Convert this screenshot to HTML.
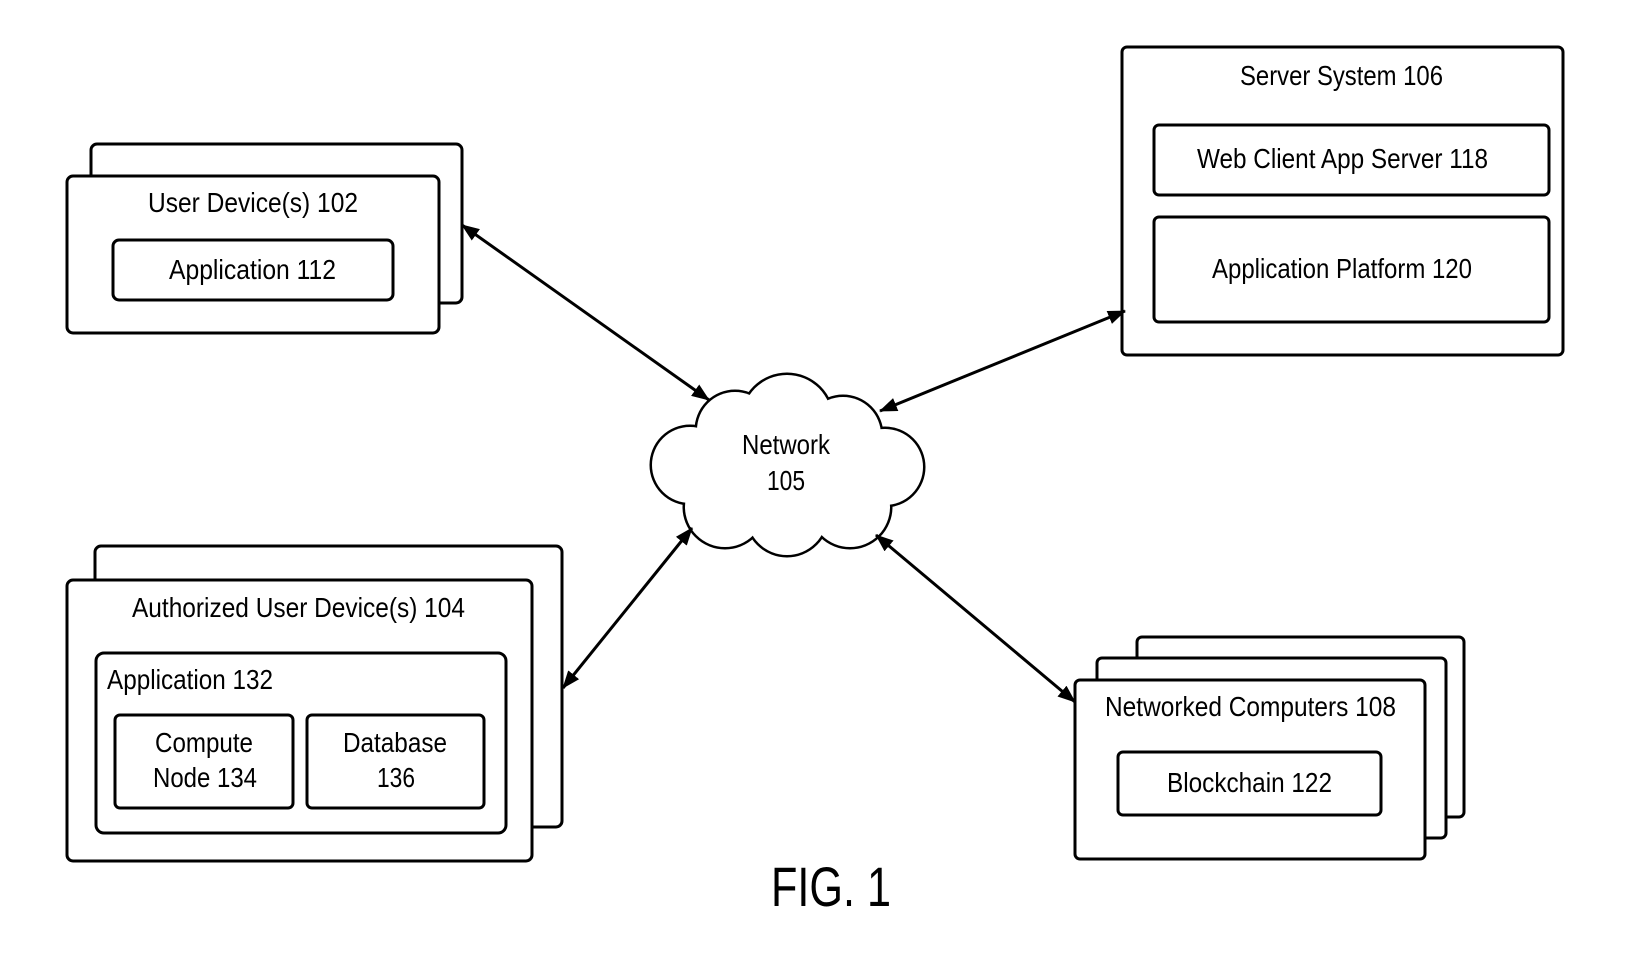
<!DOCTYPE html>
<html><head><style>html,body{margin:0;padding:0;background:#fff}svg{display:block}</style></head>
<body>
<svg width="1633" height="971" viewBox="0 0 1633 971" xmlns="http://www.w3.org/2000/svg" font-family="Liberation Sans, Arial, sans-serif" font-size="28" fill="#000">
<defs>
<marker id="a" markerWidth="10" markerHeight="10" refX="9" refY="5" orient="auto-start-reverse" markerUnits="userSpaceOnUse" viewBox="0 0 10 10">
<path d="M0,0 L10,5 L0,10 z" fill="#000"/>
</marker>
<marker id="ar" markerWidth="18" markerHeight="14" refX="17" refY="7" orient="auto-start-reverse" markerUnits="userSpaceOnUse" viewBox="0 0 18 14">
<path d="M0,0 L18,7 L0,14 z" fill="#000"/>
</marker>
</defs>
<g fill="#fff" stroke="#000" stroke-width="3">
<!-- User devices 102 -->
<rect x="91" y="144" width="371" height="159" rx="6"/>
<rect x="67" y="176" width="372" height="157" rx="6"/>
<rect x="113" y="240" width="280" height="60" rx="6"/>
<!-- Authorized 104 -->
<rect x="95" y="546" width="467" height="281" rx="6"/>
<rect x="67" y="580" width="465" height="281" rx="6"/>
<rect x="96" y="653" width="410" height="180" rx="8"/>
<rect x="115" y="715" width="178" height="93" rx="5"/>
<rect x="307" y="715" width="177" height="93" rx="5"/>
<!-- Server 106 -->
<rect x="1122" y="47" width="441" height="308" rx="5"/>
<rect x="1154" y="125" width="395" height="70" rx="5"/>
<rect x="1154" y="217" width="395" height="105" rx="5"/>
<!-- Networked 108 -->
<rect x="1137" y="637" width="327" height="180" rx="5"/>
<rect x="1097" y="658" width="349" height="180" rx="5"/>
<rect x="1075" y="680" width="350" height="179" rx="5"/>
<rect x="1118" y="752" width="263" height="63" rx="5"/>
</g>
<!-- cloud -->
<g stroke="#000" stroke-width="5" fill="#000">
<circle cx="787" cy="420" r="45"/><circle cx="735" cy="430" r="38"/><circle cx="843" cy="435" r="38"/>
<circle cx="690" cy="465" r="38"/><circle cx="885" cy="467" r="38"/><circle cx="725" cy="507" r="40"/>
<circle cx="787" cy="515" r="40"/><circle cx="850" cy="507" r="40"/><circle cx="787" cy="465" r="70"/>
</g>
<g fill="#fff">
<circle cx="787" cy="420" r="45"/><circle cx="735" cy="430" r="38"/><circle cx="843" cy="435" r="38"/>
<circle cx="690" cy="465" r="38"/><circle cx="885" cy="467" r="38"/><circle cx="725" cy="507" r="40"/>
<circle cx="787" cy="515" r="40"/><circle cx="850" cy="507" r="40"/><circle cx="787" cy="465" r="70"/>
</g>
<!-- arrows -->
<g stroke="#000" stroke-width="3" marker-start="url(#ar)" marker-end="url(#ar)">
<line x1="462" y1="225" x2="709" y2="400"/>
<line x1="1125" y1="311" x2="880" y2="411"/>
<line x1="563" y1="688" x2="692" y2="528"/>
<line x1="1075" y1="702" x2="876" y2="535"/>
</g>
<!-- text -->
<g lengthAdjust="spacingAndGlyphs">
<text x="148" y="212" textLength="210" lengthAdjust="spacingAndGlyphs">User Device(s) 102</text>
<text x="169" y="279" textLength="167" lengthAdjust="spacingAndGlyphs">Application 112</text>
<text x="132" y="617" textLength="333" lengthAdjust="spacingAndGlyphs">Authorized User Device(s) 104</text>
<text x="107" y="689" textLength="166" lengthAdjust="spacingAndGlyphs">Application 132</text>
<text x="155" y="752" textLength="98" lengthAdjust="spacingAndGlyphs">Compute</text>
<text x="153" y="787" textLength="104" lengthAdjust="spacingAndGlyphs">Node 134</text>
<text x="343" y="752" textLength="104" lengthAdjust="spacingAndGlyphs">Database</text>
<text x="377" y="787" textLength="38" lengthAdjust="spacingAndGlyphs">136</text>
<text x="1240" y="85" textLength="203" lengthAdjust="spacingAndGlyphs">Server System 106</text>
<text x="1197" y="168" textLength="291" lengthAdjust="spacingAndGlyphs">Web Client App Server 118</text>
<text x="1212" y="278" textLength="260" lengthAdjust="spacingAndGlyphs">Application Platform 120</text>
<text x="742" y="454" textLength="88" lengthAdjust="spacingAndGlyphs">Network</text>
<text x="767" y="490" textLength="38" lengthAdjust="spacingAndGlyphs">105</text>
<text x="1105" y="716" textLength="291" lengthAdjust="spacingAndGlyphs">Networked Computers 108</text>
<text x="1167" y="792" textLength="165" lengthAdjust="spacingAndGlyphs">Blockchain 122</text>
<text x="771" y="906" font-size="56" textLength="120" lengthAdjust="spacingAndGlyphs">FIG. 1</text>
</g>
</svg>
</body></html>
